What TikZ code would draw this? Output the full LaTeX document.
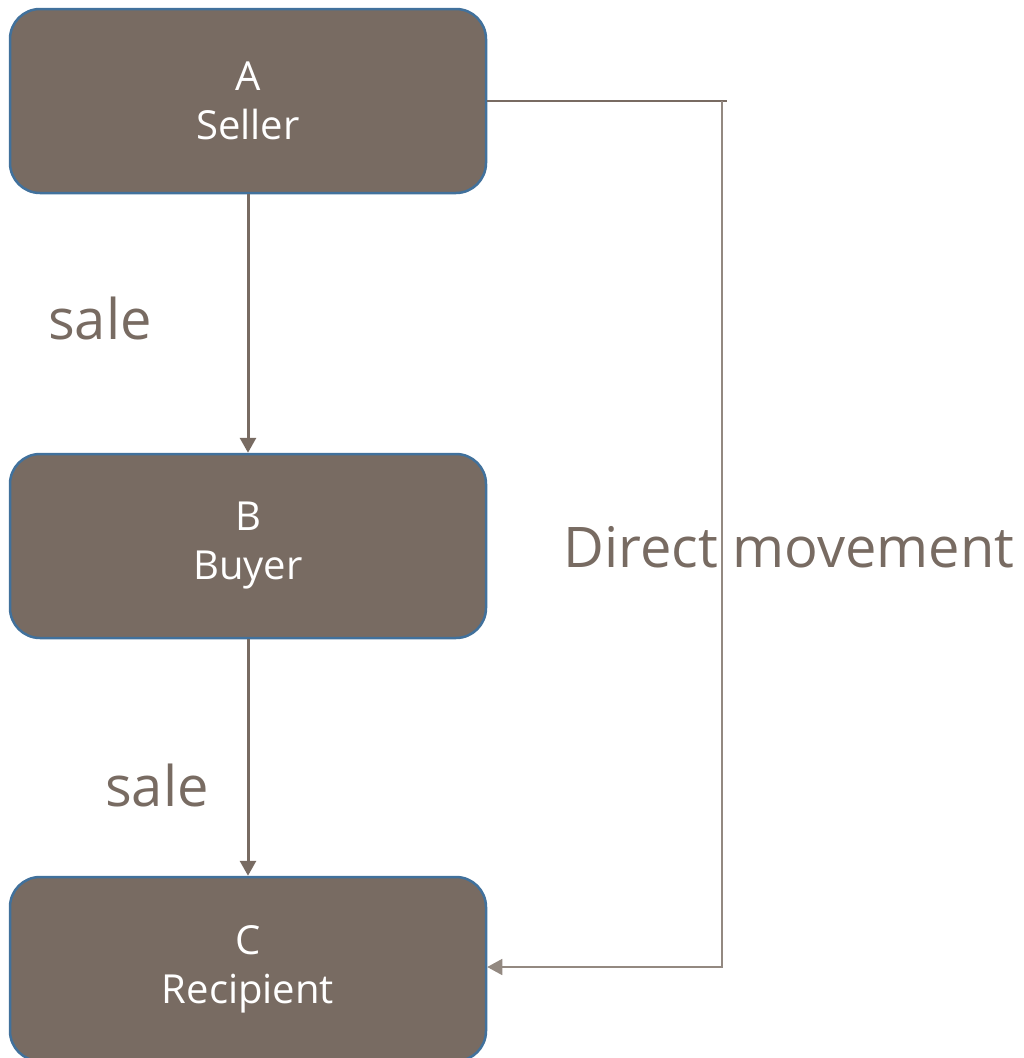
\documentclass[tikz,border=0pt]{standalone}
\usepackage{fontspec}
\usepackage{tikz}
\usetikzlibrary{arrows.meta}
\setmainfont{Open Sans}
\definecolor{boxbrown}{HTML}{786B62}
\definecolor{boxedge}{HTML}{41719C}

\begin{document}
\begin{tikzpicture}[x=1pt,y=-1pt,>={Triangle[width=16pt,length=15pt]}]
\tikzstyle{party}=[draw=boxedge,line width=2.5pt,fill=boxbrown,rounded corners=30pt,
  minimum width=476pt,minimum height=184pt,align=center,text=white,
  font=\fontsize{40}{49}\selectfont];
\tikzstyle{saletext}=[text=boxbrown,font=\fontsize{56}{62}\selectfont];
\useasboundingbox (0,0) rectangle (1024,1058);
% parties
    \node[party] (A) at (248,101) {A\\Seller};
    \node[party] (B) at (248,546) {B\\Buyer};
    \node[party] (C) at (248,969) {C\\Recipient};
% labels
    \node[saletext] (s1) at (100,318) {sale};
    \node[saletext] (s2) at (157,785) {sale};
    \node[saletext] (dm) at (789,547) {Direct movement};
    \coordinate (top) at (722,101);
    \coordinate (bot) at (722,967);
% edges
    \draw[->,boxbrown,line width=3pt] (A) -- (B);
    \draw[->,boxbrown,line width=3pt] (B) -- (C);
    \draw[boxbrown,line width=2pt] (A.east) -- ([xshift=5pt]top);
    \draw[->,boxbrown!80,line width=1.5pt] (top) -- (bot) -- (C.east |- bot);
\end{tikzpicture}
\end{document}
